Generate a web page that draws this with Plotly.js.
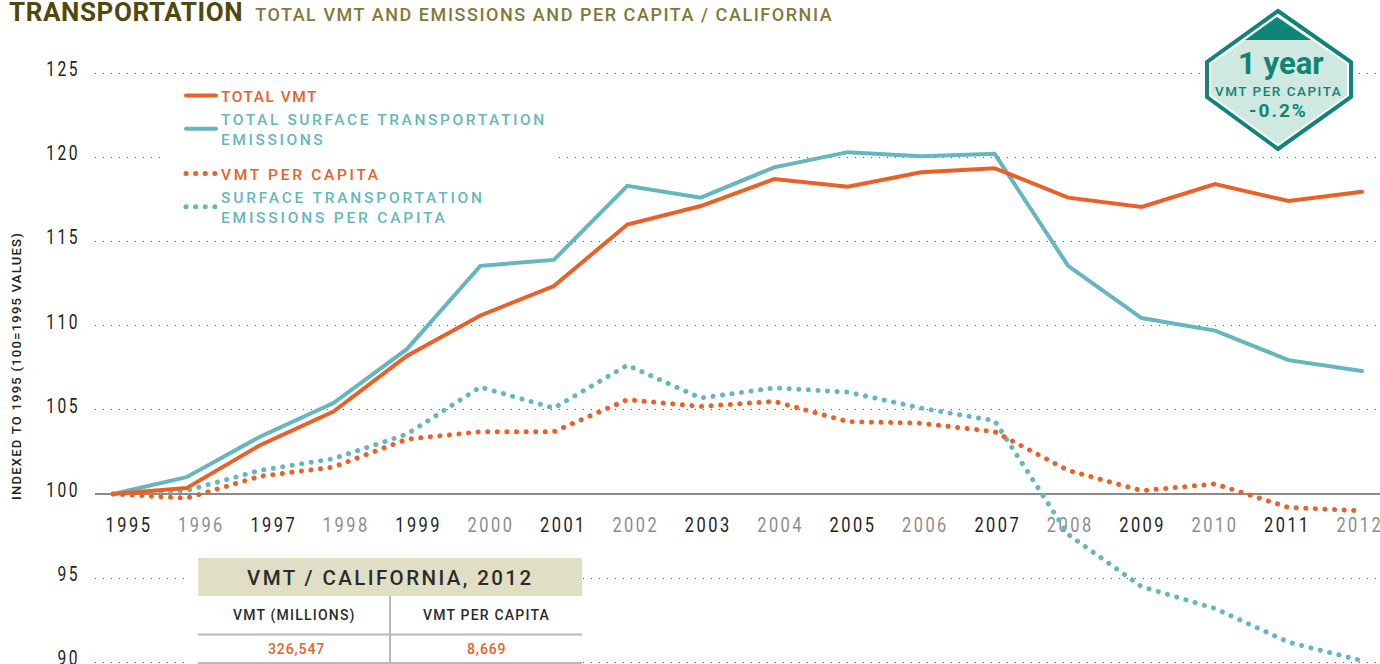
<!DOCTYPE html>
<html><head><meta charset="utf-8">
<script src="https://cdn.plot.ly/plotly-3.0.1.min.js"></script>
<style>
html,body{margin:0;padding:0;background:#fff}
#chart{width:1380px;height:664px}
path.js-line{stroke-linecap:round}
</style></head><body><div id="chart"></div>
<script>
const years=[1995,1996,1997,1998,1999,2000,2001,2002,2003,2004,2005,2006,2007,2008,2009,2010,2011,2012];
const totalVMT=[100,100.35,102.9,104.9,108.2,110.6,112.35,116,117.1,118.7,118.25,119.1,119.35,117.6,117.05,118.4,117.4,117.95];
const totalEmissions=[100,101,103.4,105.4,108.6,113.55,113.9,118.3,117.6,119.4,120.3,120.05,120.2,113.55,110.45,109.7,107.95,107.3];
const vmtPerCapita=[100,99.75,101.05,101.6,103.25,103.7,103.7,105.6,105.2,105.5,104.3,104.2,103.7,101.4,100.2,100.6,99.2,99];
const emissionsPerCapita=[100,100.2,101.4,102.1,103.55,106.35,105.1,107.65,105.7,106.3,106.05,105.1,104.35,97.6,94.5,93.2,91.2,90.1];
const yTicks=[90,95,100,105,110,115,120,125];
const ORANGE='#ea6027',TEAL='#66b6bf',DARKTEAL='#0f8577';
const W=1380,H=664;
const F='Roboto, sans-serif';
const px=x=>x/W, py=y=>1-y/H;
const DOT='0.1px,9.5px';
const sp=(t,c,ls)=>`<span style="color:${c};letter-spacing:${ls||0}px">${t}</span>`;
const xLabels=years.map((y,i)=>sp(String(y),i%2?'#8c8c8c':'#222222',3.2));
const yLabels=yTicks.map(v=>sp(String(v),'#222222',3.2));
const mk=(y,name,color,dash,legend,rank,ls)=>({x:years,y:y,name:name.split('<br>').map(t=>sp(t,color,ls)).join('<br>'),type:'scatter',mode:'lines',
  line:{color:color,width:dash?5:4,dash:dash||'solid',shape:'linear'},legend:legend,legendrank:rank});
const data=[
 mk(emissionsPerCapita,'SURFACE TRANSPORTATION<br>EMISSIONS PER CAPITA',TEAL,DOT,'legend2',2,2.8),
 mk(vmtPerCapita,'VMT PER CAPITA',ORANGE,DOT,'legend2',1,2.7),
 mk(totalEmissions,'TOTAL SURFACE TRANSPORTATION<br>EMISSIONS',TEAL,null,'legend',2,2.6),
 mk(totalVMT,'TOTAL VMT',ORANGE,null,'legend',1,1.5),
 // empty trace that brings the year-label axis into being
 {x:[years[0]],y:[null],xaxis:'x2',type:'scatter',mode:'lines',showlegend:false}
];
const poly=pts=>'M'+pts.map(p=>px(p[0])+','+py(p[1])).join('L')+'Z';
const rect=(x0,y0,x1,y1,fill)=>({type:'rect',xref:'paper',yref:'paper',x0:px(x0),x1:px(x1),y0:py(y1),y1:py(y0),fillcolor:fill,line:{width:0},layer:'above'});
const hline=(x0,x1,y)=>({type:'line',xref:'paper',yref:'paper',x0:px(x0),x1:px(x1),y0:py(y),y1:py(y),line:{color:'#b9b9b9',width:2},layer:'above'});
const vline=(x,y0,y1)=>({type:'line',xref:'paper',yref:'paper',x0:px(x),x1:px(x),y0:py(y0),y1:py(y1),line:{color:'#b9b9b9',width:2},layer:'above'});
const shapes=[
 rect(165,85,555,232,'#fff'),
 rect(190,545,582,664,'#fff'),
 rect(198,558,582,596,'#e0dfc6'),
 hline(198,582,634.5),hline(198,582,663),vline(390,596,664),
 {type:'path',xref:'paper',yref:'paper',path:poly([[1278,11],[1351,62],[1351,97],[1278,149],[1207,97],[1207,62]]),fillcolor:'#fff',line:{color:DARKTEAL,width:4},layer:'above'},
 {type:'path',xref:'paper',yref:'paper',path:poly([[1278,17],[1347,64],[1347,95],[1278,144],[1211,95],[1211,64]]),fillcolor:'#cfe8e0',line:{width:0},layer:'above'},
 {type:'path',xref:'paper',yref:'paper',path:poly([[1277,17],[1311,40],[1245,40]]),fillcolor:DARKTEAL,line:{width:0},layer:'above'}
];
const note=(x,y,text,size,color,ls,weight,angle)=>({xref:'paper',yref:'paper',x:px(x),y:py(y),xanchor:'center',yanchor:'middle',showarrow:false,textangle:angle||0,
  text:`<span style="letter-spacing:${ls}px">${text}</span>`,font:{family:F,size:size,color:color,weight:weight||400}});
const annotations=[
 note(16,366,'INDEXED TO 1995 (100=1995 VALUES)',13,'#222',1.25,500,-90),
 note(1281,64,'1 year',31,DARKTEAL,0,700),
 note(1278,91,'VMT PER CAPITA',13.5,DARKTEAL,1.5,500),
 note(1278,110,'-0.2%',19,DARKTEAL,2,700),
 note(390,578,'VMT / CALIFORNIA, 2012',20.5,'#2b2b2b',2.4,500),
 note(294,615,'VMT (MILLIONS)',14,'#2b2b2b',1.2,500),
 note(486,615,'VMT PER CAPITA',14,'#2b2b2b',1.2,500),
 note(296,649,'326,547',14,ORANGE,0.9,500),
 note(486,649,'8,669',14,ORANGE,0.9,500)
];
const legendBase={bgcolor:'rgba(0,0,0,0)',borderwidth:0,xanchor:'left',yanchor:'top',font:{family:F,size:15.5,weight:500},itemwidth:30,tracegroupgap:5,itemclick:false,itemdoubleclick:false};
const layout={
 width:W,height:H,margin:{l:0,r:0,t:0,b:0,pad:0},paper_bgcolor:'#fff',plot_bgcolor:'#fff',showlegend:true,hovermode:false,
 title:{text:'<span style="font-size:26px;color:#4f4a0c;letter-spacing:0.6px"><b>TRANSPORTATION</b></span>&nbsp;&nbsp;&nbsp;<span style="font-size:18px;color:#7f7a38;letter-spacing:1.55px;font-weight:500">TOTAL VMT AND EMISSIONS AND PER CAPITA / CALIFORNIA</span>',
   x:px(9),xanchor:'left',y:py(15),yanchor:'middle',font:{family:F,size:16}},
 xaxis:{domain:[95/W,1],range:[1995+(95-113)/73.47,1995+(1380-113)/73.47],visible:false,showgrid:false,zeroline:false},
 // Year labels sit on a slightly tighter scale than the data in the source graphic
 xaxis2:{domain:[95/W,1],overlaying:'x',range:[1995+(95-129)/72.4,1995+(1380-129)/72.4],anchor:'free',position:170/H,
   tickmode:'array',tickvals:years,ticktext:xLabels,ticks:'',ticklabelstandoff:12,ticklabeloverflow:'allow',tickangle:0,showgrid:false,zeroline:false,
   showline:true,linecolor:'#8a8a8a',linewidth:2,layer:'below traces',tickfont:{family:F,size:21,color:'#222'}},
 yaxis:{domain:[0,1-62/H],range:[100-170/16.84,100+(494-62)/16.84],tickmode:'array',tickvals:yTicks,ticktext:yLabels,ticks:'',ticklabelstandoff:14,ticklabelshift:-4,ticklabeloverflow:'allow',
   showgrid:true,gridcolor:'#555',gridwidth:1,griddash:'1px,7px',zeroline:false,showline:false,
   tickfont:{family:F,size:20,color:'#222'}},
 legend:Object.assign({},legendBase,{x:px(181),y:py(79)}),
 legend2:Object.assign({},legendBase,{x:px(181),y:py(157)}),
 shapes:shapes,annotations:annotations
};
Plotly.newPlot('chart',data,layout,{staticPlot:true,displayModeBar:false}).then(gd=>{
  // The reference's tick numerals are condensed; narrow them about their anchor.
  gd.querySelectorAll('.xtick text, .x2tick text, .ytick text').forEach(t=>{
    const x=t.getAttribute('x')||0, old=t.getAttribute('transform')||'';
    t.setAttribute('transform',`${old} translate(${x},0) scale(0.78,1) translate(${-x},0)`);
  });
});
</script></body></html>
